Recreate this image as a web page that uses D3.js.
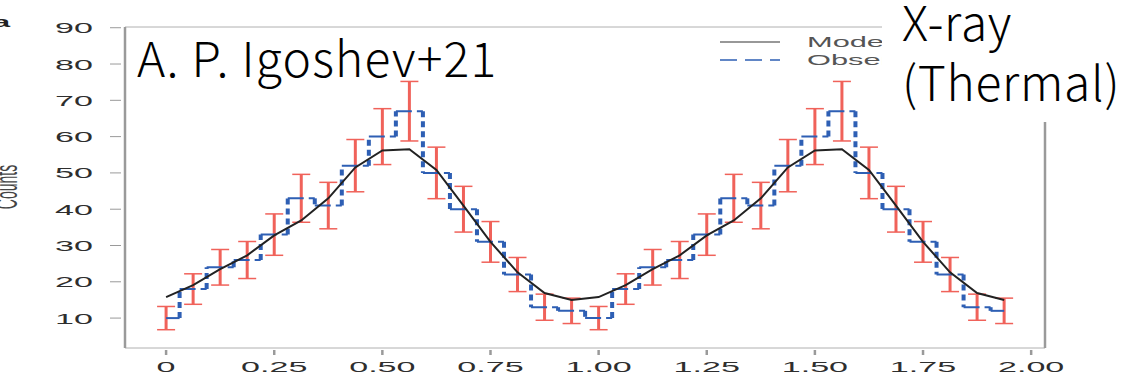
<!DOCTYPE html>
<html>
<head>
<meta charset="utf-8">
<script src="https://cdn.jsdelivr.net/npm/d3@7/dist/d3.min.js"></script>
<style>
  body { margin: 0; background: #fff; }
  svg { display: block; }
</style>
</head>
<body>
<svg id="chart" width="1122" height="375"></svg>
<script>
// phase bins (two cycles, 16 bins per cycle)
const phase = [0, 0.0625, 0.125, 0.1875, 0.25, 0.3125, 0.375, 0.4375,
  0.5, 0.5625, 0.625, 0.6875, 0.75, 0.8125, 0.875, 0.9375,
  1, 1.0625, 1.125, 1.1875, 1.25, 1.3125, 1.375, 1.4375,
  1.5, 1.5625, 1.625, 1.6875, 1.75, 1.8125, 1.875, 1.9375];
const observed = [10, 18, 24, 26, 33, 43, 41, 52, 60, 67, 50, 40, 31, 22, 13, 12,
  10, 18, 24, 26, 33, 43, 41, 52, 60, 67, 50, 40, 31, 22, 13, 12];
const errors = [3.2, 4.2, 4.9, 5.1, 5.7, 6.6, 6.4, 7.2, 7.7, 8.2, 7.1, 6.3, 5.6, 4.7, 3.6, 3.5,
  3.2, 4.2, 4.9, 5.1, 5.7, 6.6, 6.4, 7.2, 7.7, 8.2, 7.1, 6.3, 5.6, 4.7, 3.6, 3.5];
const model = [15.8, 19.1, 23.5, 27.3, 32.8, 36.9, 43, 51.5, 56.2, 56.5, 50.8, 41, 31, 22.6, 16.9, 15,
  15.8, 19.1, 23.5, 27.3, 32.8, 36.9, 43, 51.5, 56.2, 56.5, 50.8, 41, 31, 22.6, 16.9, 15];
const xTicks = [0, 0.25, 0.5, 0.75, 1, 1.25, 1.5, 1.75, 2];
const xTickLabels = ["0", "0.25", "0.50", "0.75", "1.00", "1.25", "1.50", "1.75", "2.00"];
const yTicks = [10, 20, 30, 40, 50, 60, 70, 80, 90];
const legendLabels = ["Model", "Observed"];

const svg = d3.select("#chart");
const stretch = 2.2;   // the original figure is squeezed wide
const plot = { left: 125, right: 1045, top: 27, bottom: 348 };

const x = d3.scaleLinear().domain([-0.095, 2.032]).range([plot.left, plot.right]);
const y = d3.scaleLinear().domain([1.76, 90.2]).range([plot.bottom, plot.top]);
const half = (phase[1] - phase[0]) / 2;

const axisFont = "'Liberation Sans', Arial, sans-serif";
const grey = "#9a9a9a";

// frame
svg.append("line").attr("x1", plot.left).attr("x2", plot.right).attr("y1", plot.top).attr("y2", plot.top)
  .attr("stroke", "#b0b0b0").attr("stroke-width", 1);
svg.append("line").attr("x1", plot.left).attr("x2", plot.right).attr("y1", plot.bottom).attr("y2", plot.bottom)
  .attr("stroke", "#b0b0b0").attr("stroke-width", 1);
svg.append("line").attr("x1", plot.left).attr("x2", plot.left).attr("y1", plot.top).attr("y2", plot.bottom)
  .attr("stroke", grey).attr("stroke-width", 2.5);
svg.append("line").attr("x1", plot.right).attr("x2", plot.right).attr("y1", plot.top).attr("y2", plot.bottom)
  .attr("stroke", grey).attr("stroke-width", 2.5);

// y axis ticks + labels
const yg = svg.append("g");
yg.selectAll("line").data(yTicks).enter().append("line")
  .attr("x1", 110).attr("x2", 121)
  .attr("y1", d => y(d)).attr("y2", d => y(d))
  .attr("stroke", grey).attr("stroke-width", 1);
yg.selectAll("text").data(yTicks).enter().append("text")
  .attr("transform", d => `translate(93,${y(d) + 5.5}) scale(${stretch},1)`)
  .attr("text-anchor", "end")
  .style("font-family", axisFont).style("font-size", "15.5px").style("fill", "#2e2e2e")
  .text(d => d);

// x axis ticks + labels
const xg = svg.append("g");
xg.selectAll("line").data(xTicks).enter().append("line")
  .attr("x1", d => x(d)).attr("x2", d => x(d))
  .attr("y1", 350).attr("y2", 355)
  .attr("stroke", grey).attr("stroke-width", 2.5);
xg.selectAll("text").data(xTicks).enter().append("text")
  .attr("transform", d => `translate(${x(d)},372) scale(${stretch},1)`)
  .attr("text-anchor", "middle")
  .style("font-family", axisFont).style("font-size", "15.5px").style("fill", "#2e2e2e")
  .text((d, i) => xTickLabels[i]);

// y title and panel letter (clipped at the left edge)
svg.append("text")
  .attr("transform", `translate(17,187) scale(${stretch},1) rotate(-90)`)
  .attr("text-anchor", "middle")
  .style("font-family", axisFont).style("font-size", "14px").style("fill", "#444")
  .text("Counts");
svg.append("text")
  .attr("transform", `translate(-7,27) scale(${stretch},1)`)
  .style("font-family", axisFont).style("font-size", "14px").style("font-weight", "bold").style("fill", "#222")
  .text("a");

// error bars
const eb = svg.append("g");
eb.selectAll(".ebar").data(observed).enter().append("line")
  .attr("x1", (d, i) => x(phase[i])).attr("x2", (d, i) => x(phase[i]))
  .attr("y1", (d, i) => y(d - errors[i])).attr("y2", (d, i) => y(d + errors[i]))
  .attr("stroke", "#f0625a").attr("stroke-width", 3);
[-1, 1].forEach(s => {
  eb.selectAll(".cap" + s).data(observed).enter().append("line")
    .attr("x1", (d, i) => x(phase[i]) - 9).attr("x2", (d, i) => x(phase[i]) + 9)
    .attr("y1", (d, i) => y(d + s * errors[i])).attr("y2", (d, i) => y(d + s * errors[i]))
    .attr("stroke", "#f0625a").attr("stroke-width", 1.5);
});

// observed histogram (dashed steps)
const blue = "#2e5fb4";
const hseg = observed.map((d, i) => ({
  x0: i === 0 ? phase[i] : phase[i] - half,
  x1: i === observed.length - 1 ? phase[i] : phase[i] + half,
  v: d
}));
svg.append("g").selectAll("line").data(hseg).enter().append("line")
  .attr("x1", d => x(d.x0)).attr("x2", d => x(d.x1))
  .attr("y1", d => y(d.v)).attr("y2", d => y(d.v))
  .attr("stroke", blue).attr("stroke-width", 2).attr("stroke-dasharray", "16,5");
const vseg = observed.slice(1).map((d, i) => ({ p: phase[i] + half, a: observed[i], b: d }));
svg.append("g").selectAll("line").data(vseg).enter().append("line")
  .attr("x1", d => x(d.p)).attr("x2", d => x(d.p))
  .attr("y1", d => y(d.a)).attr("y2", d => y(d.b))
  .attr("stroke", blue).attr("stroke-width", 4).attr("stroke-dasharray", "6,4");

// model curve
const line = d3.line().x((d, i) => x(phase[i])).y(d => y(d));
svg.append("path").datum(model)
  .attr("d", line)
  .attr("fill", "none").attr("stroke", "#222").attr("stroke-width", 2);

// legend
const lg = svg.append("g");
lg.append("line").attr("x1", 720).attr("x2", 780).attr("y1", 42).attr("y2", 42)
  .attr("stroke", "#333").attr("stroke-width", 1.2);
lg.append("line").attr("x1", 720).attr("x2", 780).attr("y1", 60).attr("y2", 60)
  .attr("stroke", blue).attr("stroke-width", 1.6).attr("stroke-dasharray", "17,8");
lg.selectAll("text").data(legendLabels).enter().append("text")
  .attr("transform", (d, i) => `translate(807,${47 + i * 18}) scale(${stretch},1)`)
  .style("font-family", axisFont).style("font-size", "14px").style("fill", "#555")
  .text(d => d);

// overlaid annotations
const noteFont = "'Noto Sans CJK JP', 'Noto Sans', sans-serif";
svg.append("text")
  .attr("x", 137).attr("y", 77)
  .style("font-family", noteFont).style("font-size", "48px").style("font-weight", 300)
  .style("letter-spacing", "1.2px").style("fill", "#000")
  .text("A. P. Igoshev+21");
svg.append("rect").attr("x", 882).attr("y", 0).attr("width", 240).attr("height", 122).attr("fill", "#fff");
const xr = svg.append("text")
  .style("font-family", noteFont).style("font-size", "48px").style("font-weight", 300)
  .style("letter-spacing", "0.7px").style("fill", "#000");
xr.append("tspan").attr("x", 902).attr("y", 41).text("X-ray");
xr.append("tspan").attr("x", 902).attr("y", 101).text("(Thermal)");
</script>
</body>
</html>
